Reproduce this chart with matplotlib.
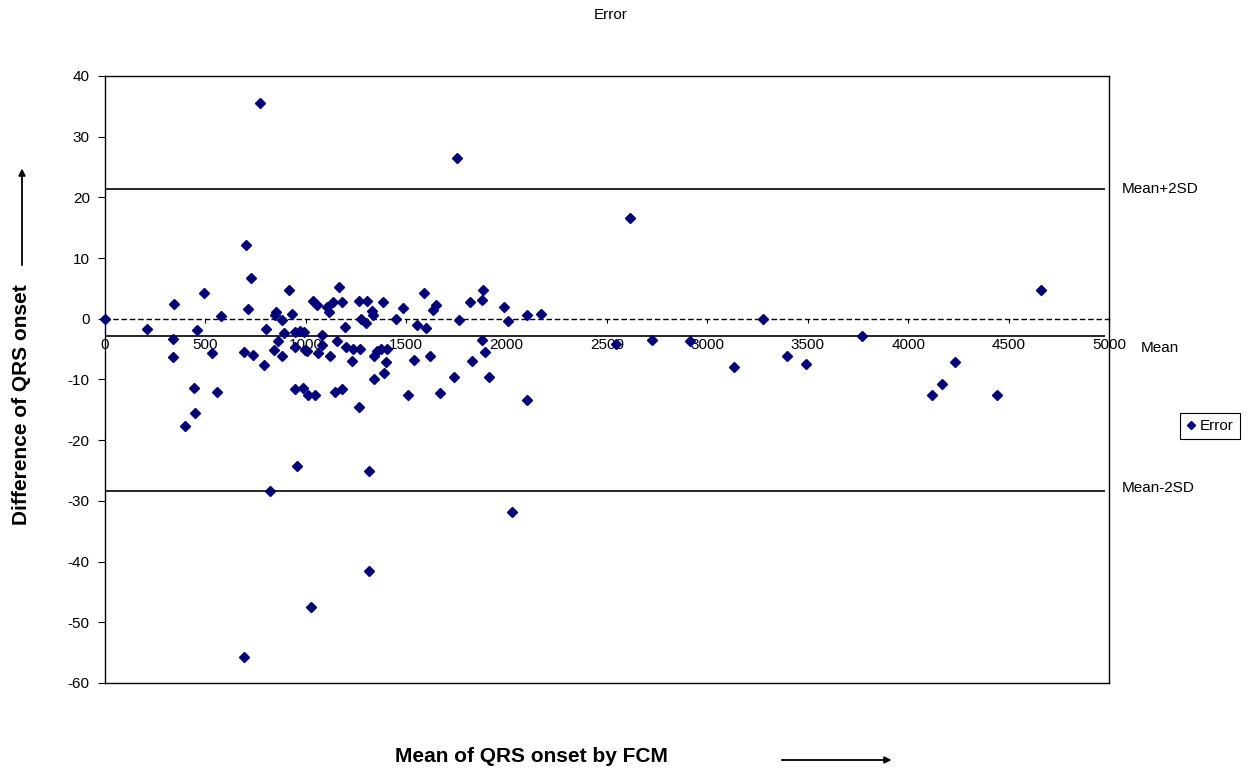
import matplotlib.pyplot as plt
import numpy as np

# mean of QRS onset (x) and difference (y)
mean_x = [0, 208, 342, 336, 336, 399, 443, 449, 457, 492,
          535, 560, 578, 690, 693, 703, 711, 728, 739, 773,
          794, 803, 823, 844, 846, 851, 859, 881, 881, 889,
          915, 931, 944, 944, 947, 957, 972, 989, 987, 997,
          1005, 1012, 1027, 1035, 1047, 1055, 1059, 1083, 1080, 1105,
          1115, 1122, 1137, 1147, 1157, 1165, 1180, 1180, 1193, 1198,
          1228, 1234, 1263, 1266, 1271, 1276, 1298, 1306, 1316, 1316,
          1328, 1334, 1341, 1342, 1355, 1375, 1386, 1387, 1400, 1405,
          1450, 1484, 1511, 1540, 1554, 1589, 1597, 1620, 1633, 1647,
          1668, 1738, 1753, 1761, 1816, 1829, 1876, 1881, 1876, 1894,
          1914, 1987, 2008, 2029, 2100, 2100, 2172, 2543, 2617, 2725,
          2913, 3135, 3275, 3396, 3490, 3772, 4121, 4171, 4232, 4445,
          4664]
diff_y = [0, -1.7, 2.5, -3.3, -6.3, -17.6, -11.4, -15.6, -1.9, 4.2,
          -5.7, -12.1, 0.5, -5.4, -55.7, 12.2, 1.6, 6.7, -5.9, 35.6,
          -7.6, -1.7, -28.3, -5.2, 0.7, 1.1, -3.7, -0.2, -6.1, -2.4,
          4.7, 0.8, -4.6, -11.5, -2.2, -24.2, -2.0, -2.2, -11.4, -5.1,
          -5.3, -12.5, -47.4, 3.0, -12.5, 2.2, -5.7, -2.7, -4.3, 2.0,
          1.1, -6.1, 2.7, -12.1, -3.6, 5.3, 2.7, -11.6, -1.3, -4.6,
          -7.0, -5.0, 3.0, -14.5, -5.0, -0.1, -0.7, 3.0, -25.0, -41.5,
          1.2, 0.7, -6.1, -10.0, -5.3, -4.9, 2.7, -8.9, -7.2, -4.9,
          -0.1, 1.8, -12.5, -6.8, -1.0, 4.2, -1.5, -6.1, 1.4, 2.3,
          -12.3, -9.6, 26.5, -0.2, 2.7, -6.9, 3.1, 4.7, -3.5, -5.5,
          -9.6, 1.9, -0.4, -31.9, 0.6, -13.3, 0.8, -4.1, 16.6, -3.5,
          -3.7, -7.9, 0.0, -6.1, -7.5, -2.8, -12.5, -10.8, -7.2, -12.5,
          4.7]

mean_line = -2.8
upper_line = 21.4
lower_line = -28.3
line_labels = ['Mean+2SD', 'Mean', 'Mean-2SD']

plt.rcParams['font.family'] = ['Liberation Sans', 'DejaVu Sans']
plt.rcParams['axes.unicode_minus'] = False

fig = plt.figure(figsize=(12.58, 7.72), dpi=100)
ax = fig.add_axes([0.0835, 0.1153, 0.798, 0.7863])

# точки
ax.plot(mean_x, diff_y, 'D', color='#000080', ms=4.8, label='Error', clip_on=False, zorder=3)

ax.set_xlim(0, 5000)
ax.set_ylim(-60, 40)
ax.set_yticks(np.arange(-60, 41, 10))
ax.tick_params(axis='y', direction='out', length=5, labelsize=11, pad=6)
ax.tick_params(axis='x', bottom=False, labelbottom=False)
for s in ax.spines.values():
    s.set_linewidth(1)

# линии среднего и +-2SD
ax.hlines([upper_line, mean_line, lower_line], 0, 4980, colors='black', lw=1.2)
offsets = [(9, 0), (23, -9), (9, 2)]
for val, lab, off in zip([upper_line, mean_line, lower_line], line_labels, offsets):
    ax.annotate(lab, xy=(1, val), xycoords=('axes fraction', 'data'), xytext=off,
                textcoords='offset points', va='center', ha='left', fontsize=11,
                annotation_clip=False)

# ось x проходит через y=0 (пунктир)
ymin, ymax = ax.get_ylim()
sec = ax.secondary_xaxis((0 - ymin) / (ymax - ymin))
sec.set_alignment('bottom')
sec.set_xticks(np.arange(0, 5001, 500))
sec.tick_params(direction='out', length=3, labelsize=11, pad=11)
sec.spines['bottom'].set_linestyle((0, (3, 3)))
sec.spines['bottom'].set_linewidth(1)
sec.spines['top'].set_visible(False)

# заголовок и подписи осей
fig.text(611 / 1258, 1 - 15 / 772, 'Error', ha='center', va='center', fontsize=11)
fig.text(22 / 1258, 1 - 405 / 772, 'Difference of QRS onset', rotation=90,
         ha='center', va='center', fontsize=15, fontweight='bold')
fig.text(531 / 1258, 1 - 757 / 772, 'Mean of QRS onset by FCM',
         ha='center', va='center', fontsize=15, fontweight='bold')
fig.add_artist(plt.annotate('', xy=(22 / 1258, 1 - 166 / 772), xytext=(22 / 1258, 1 - 268 / 772),
                            xycoords='figure fraction',
                            arrowprops=dict(arrowstyle='-|>', color='black', lw=1, mutation_scale=10)))
fig.add_artist(plt.annotate('', xy=(894 / 1258, 1 - 760 / 772), xytext=(779 / 1258, 1 - 760 / 772),
                            xycoords='figure fraction',
                            arrowprops=dict(arrowstyle='-|>', color='black', lw=1, mutation_scale=10)))

# легенда
leg = fig.legend(loc='center', bbox_to_anchor=(1210 / 1258, 1 - 426 / 772), fontsize=11,
                 fancybox=False, framealpha=1, edgecolor='black', handlelength=0.6,
                 handletextpad=0.3, borderpad=0.4, markerscale=0.8)
leg.get_frame().set_linewidth(0.8)

fig.savefig('out.png', dpi=100)
